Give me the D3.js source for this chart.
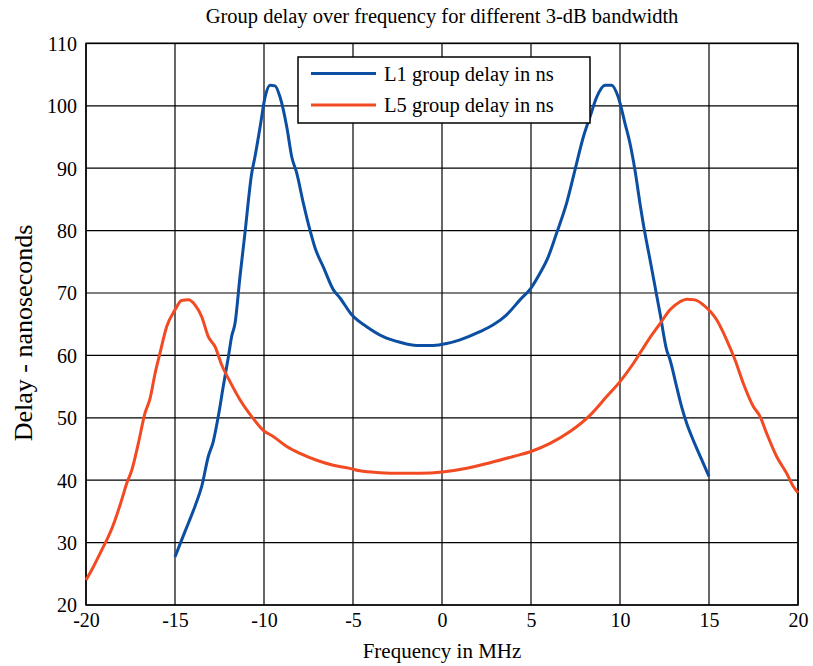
<!DOCTYPE html>
<html>
<head>
<meta charset="utf-8">
<script src="https://cdn.jsdelivr.net/npm/d3@7"></script>
<style>
  body { margin: 0; background: #fff; }
  #chart { width: 813px; height: 666px; }
  svg text { font-family: "Liberation Serif", "Times New Roman", serif; fill: #000; }
</style>
</head>
<body>
<div id="chart"></div>
<script>
// L1 group delay (MHz, ns)
const l1Freq = [-15, -14.63, -14.25, -13.88, -13.5, -13.13, -12.85, -12.57, -12.29, -12.0, -11.82, -11.63,
    -11.35, -11.07, -10.69, -10.51, -10.22, -9.94, -9.66, -9.38, -9.1, -8.72, -8.44, -8.16, -7.79, -7.42,
    -7.13, -6.67, -6.1, -5.73, -5.07, -4.23, -3.3, -2.36, -1.42, -0.49, 0.26, 1.01, 2.13, 2.88, 3.63, 4.38,
    5.0, 5.51, 5.97, 6.44, 7.0, 7.47, 7.94, 8.31, 8.69, 9.16, 9.53, 9.9, 10.28, 10.56, 10.84, 11.12, 11.4,
    11.69, 11.97, 12.25, 12.62, 12.81, 13.18, 13.46, 13.75, 14.03, 14.31, 14.68, 15];
const l1Delay = [27.7, 30.4, 33.1, 35.8, 39.0, 43.8, 46.2, 50.2, 55.0, 59.8, 63.0, 65.1,
    72.6, 79.6, 89.2, 91.8, 96.6, 101.4, 103.3, 103.2, 101.4, 96.6, 91.8, 89.2, 84.4, 80.1,
    77.2, 74.2, 70.5, 69.2, 66.5, 64.6, 63.0, 62.1, 61.6, 61.6, 61.9, 62.5, 63.8, 64.9, 66.5, 68.9,
    70.8, 73.2, 75.8, 79.6, 84.4, 89.7, 95.0, 98.2, 101.4, 103.3, 103.3, 101.4, 97.2, 94.0, 89.7, 84.4, 79.6,
    75.3, 71.0, 66.7, 60.9, 59.3, 55.0, 51.8, 49.1, 47.0, 45.1, 42.7, 40.6];

// L5 group delay
const l5Freq = [-20, -19.59, -19.12, -18.75, -18.37, -18.0, -17.71, -17.43, -17.06, -16.69, -16.4, -16.12,
    -15.84, -15.47, -15.0, -14.63, -14.25, -13.88, -13.5, -13.13, -12.75, -12.38, -11.91, -11.35, -10.69,
    -10.04, -9.48, -8.72, -7.98, -7.04, -6.11, -5.17, -4.61, -3.48, -2.36, -1.24, 0.02, 1.39, 2.7, 4.01,
    5.0, 6.07, 7.19, 8.31, 9.25, 10.0, 10.75, 11.6, 12.25, 12.81, 13.37, 13.75, 14.21, 14.68, 15.43, 15.99,
    16.46, 16.93, 17.49, 17.87, 18.24, 18.8, 19.36, 19.74, 20];
const l5Delay = [24.0, 26.1, 28.8, 30.9, 33.6, 36.8, 39.5, 41.6, 45.9, 50.7, 53.1, 57.1,
    60.4, 64.6, 67.3, 68.8, 68.9, 68.1, 66.2, 63.0, 61.4, 58.5, 55.8, 52.9, 50.2,
    48.0, 47.0, 45.4, 44.3, 43.2, 42.4, 41.9, 41.5, 41.2, 41.1, 41.1, 41.3, 41.9, 42.8, 43.8,
    44.6, 45.9, 47.8, 50.4, 53.4, 55.8, 58.7, 62.5, 65.1, 67.3, 68.6, 69.0, 68.9, 68.1, 65.7, 62.5,
    59.3, 55.5, 51.8, 50.2, 47.5, 43.8, 41.1, 39.0, 38.0];

const xTicks = [-20, -15, -10, -5, 0, 5, 10, 15, 20];
const yTicks = [20, 30, 40, 50, 60, 70, 80, 90, 100, 110];

const seriesNames = ["L1 group delay in ns", "L5 group delay in ns"];
const seriesColors = ["#0b4ea2", "#f24a22"];

const margin = {top: 43.4, right: 15, bottom: 61, left: 86};
const width = 813 - margin.left - margin.right;
const height = 666 - margin.top - margin.bottom;

const svg = d3.select("#chart").append("svg")
    .attr("width", 813)
    .attr("height", 666);

const g = svg.append("g")
    .attr("transform", `translate(${margin.left}, ${margin.top})`);

const x = d3.scaleLinear().domain([-20, 20]).range([0, width]);
const y = d3.scaleLinear().domain([20, 110]).range([height, 0]);

// grid
g.append("g")
    .selectAll("line")
    .data(xTicks)
    .join("line")
    .attr("x1", d => x(d)).attr("x2", d => x(d))
    .attr("y1", 0).attr("y2", height)
    .attr("stroke", "#000").attr("stroke-width", 1.2);

g.append("g")
    .selectAll("line")
    .data(yTicks)
    .join("line")
    .attr("x1", 0).attr("x2", width)
    .attr("y1", d => y(d)).attr("y2", d => y(d))
    .attr("stroke", "#000").attr("stroke-width", 1.2);

// axes - plain hyphen for negatives, like the original
const xAxis = g.append("g")
    .attr("transform", `translate(0, ${height})`)
    .call(d3.axisBottom(x).tickValues(xTicks).tickSize(0).tickPadding(8).tickFormat(d => String(d)));
const yAxis = g.append("g")
    .call(d3.axisLeft(y).tickValues(yTicks).tickSize(0).tickPadding(9).tickFormat(d => String(d)));

[xAxis, yAxis].forEach(a => {
    a.attr("font-family", null).attr("font-size", null);
    a.select(".domain").remove();
    a.selectAll("text")
        .style("font-family", "'Liberation Serif', serif")
        .style("font-size", "20px")
        .attr("fill", "#000");
});
yAxis.selectAll("text").attr("dy", "0.34em");

// box
g.append("rect")
    .attr("width", width).attr("height", height)
    .attr("fill", "none").attr("stroke", "#000").attr("stroke-width", 1.5);

// lines
const line = d3.line()
    .x(d => x(d[0]))
    .y(d => y(d[1]))
    .curve(d3.curveMonotoneX);

const series = [
    d3.zip(l1Freq, l1Delay),
    d3.zip(l5Freq, l5Delay)
];

g.selectAll(".trend-line")
    .data(series)
    .join("path")
    .attr("class", "trend-line")
    .attr("fill", "none")
    .attr("stroke", (d, i) => seriesColors[i])
    .attr("stroke-width", 3)
    .attr("stroke-linejoin", "round")
    .attr("d", line);

// legend
const legend = svg.append("g").attr("transform", "translate(298, 57)");
legend.append("rect")
    .attr("width", 292).attr("height", 66)
    .attr("fill", "#fff").attr("stroke", "#000").attr("stroke-width", 1.5);

seriesNames.forEach((name, i) => {
    const ly = 16.5 + i * 31.5;
    legend.append("line")
        .attr("x1", 13).attr("x2", 78)
        .attr("y1", ly).attr("y2", ly)
        .attr("stroke", seriesColors[i]).attr("stroke-width", 3);
    legend.append("text")
        .attr("x", 86).attr("y", ly)
        .attr("dy", "0.35em")
        .style("font-size", "20.5px")
        .text(name);
});

// titles
svg.append("text")
    .attr("x", 442).attr("y", 23)
    .attr("text-anchor", "middle")
    .style("font-size", "20.5px")
    .text("Group delay over frequency for different 3-dB bandwidth");

svg.append("text")
    .attr("x", 442).attr("y", 658)
    .attr("text-anchor", "middle")
    .style("font-size", "21px")
    .text("Frequency in MHz");

svg.append("text")
    .attr("transform", `translate(32, 333) rotate(-90)`)
    .attr("text-anchor", "middle")
    .style("font-size", "26px")
    .text("Delay - nanoseconds");
</script>
</body>
</html>
